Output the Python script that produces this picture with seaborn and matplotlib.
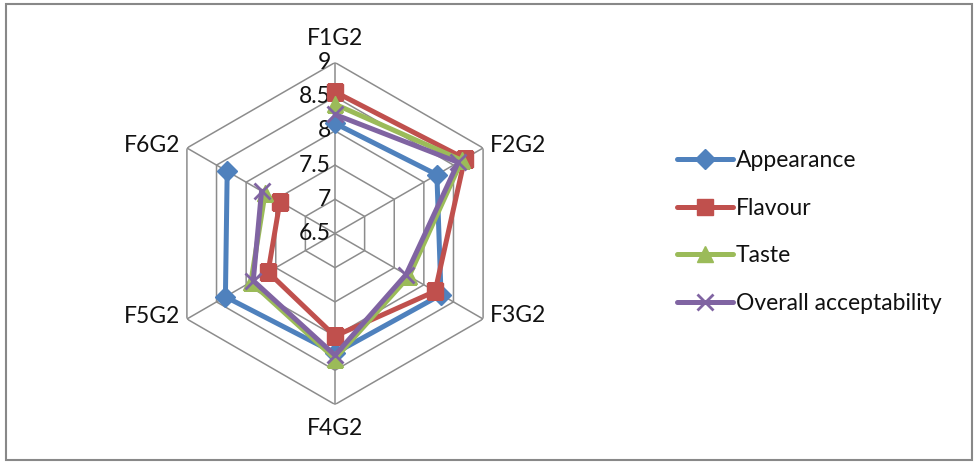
import numpy as np
import pandas as pd
import matplotlib
matplotlib.use("Agg")
import matplotlib.pyplot as plt
import seaborn as sns
from matplotlib.patches import Rectangle

categories = ["F1G2", "F2G2", "F3G2", "F4G2", "F5G2", "F6G2"]
appearance = [8.11, 8.22, 8.29, 8.25, 8.35, 8.32]
flavour = [8.57, 8.69, 8.19, 8.00, 7.63, 7.43]
taste = [8.39, 8.64, 7.75, 8.33, 7.92, 7.68]
overall = [8.24, 8.58, 7.70, 8.28, 7.88, 7.74]
series_names = ["Appearance", "Flavour", "Taste", "Overall acceptability"]
ring_values = [6.5, 7, 7.5, 8, 8.5, 9]
ring_labels = ["6.5", "7", "7.5", "8", "8.5", "9"]

sns.set_theme(style="white")
plt.rcParams["font.family"] = ["Lato", "DejaVu Sans"]

colors = ["#4F81BD", "#C0504D", "#9BBB59", "#8064A2"]
markers = ["D", "s", "^", "x"]
msizes = [10, 12, 11, 11]
FS = 16.5

fig = plt.figure(figsize=(9.74, 4.62), dpi=100)
W, H = 974, 462
cx, cy, R = 335, 233.5, 171
ax = fig.add_axes([(cx - R) / W, (H - cy - R) / H, 2 * R / W, 2 * R / H],
                  projection="polar")
ax.set_theta_zero_location("N")
ax.set_theta_direction(-1)
ax.set_ylim(6.5, 9)
ax.grid(False)
ax.spines["polar"].set_visible(False)
ax.set_xticks([])
ax.set_yticks([])
ax.patch.set_alpha(0)

n = len(categories)
theta = np.linspace(0, 2 * np.pi, n, endpoint=False)
theta_closed = np.append(theta, theta[0])

# hexagonal rings and spokes
grid_col = "#8C8C8C"
for rv in ring_values[1:]:
    ax.plot(theta_closed, [rv] * (n + 1), color=grid_col, lw=1.1, zorder=1)
for t in theta:
    ax.plot([t, t], [6.5, 9], color=grid_col, lw=1.1, zorder=1)

# radial value labels along the top spoke
for rv, lab in zip(ring_values, ring_labels):
    ax.annotate(lab, xy=(0, rv), xytext=(-4, 0), textcoords="offset pixels",
                ha="right", va="center", fontsize=FS, color="#111111")

# category labels
for t, cat in zip(theta, categories):
    s, c = np.sin(t), np.cos(t)
    if abs(s) < 0.1:
        ha, off = "center", (0, 24 * np.sign(c))
    elif s > 0:
        ha, off = "left", (7, 3)
    else:
        ha, off = "right", (-7, 3)
    ax.annotate(cat, xy=(t, 9), xytext=off, textcoords="offset pixels",
                ha=ha, va="center", fontsize=FS, color="#111111")

rows = []
for name, vals in zip(series_names, [appearance, flavour, taste, overall]):
    for i, (t, v) in enumerate(zip(theta_closed, vals + [vals[0]])):
        rows.append({"series": name, "theta": t, "value": v, "order": i})
df = pd.DataFrame(rows)

for name, c, m, ms in zip(series_names, colors, markers, msizes):
    sub = df[df["series"] == name]
    sns.lineplot(data=sub, x="theta", y="value", sort=False, ax=ax,
                 color=c, lw=3.6, marker=m, markersize=ms,
                 markeredgecolor=c, markeredgewidth=2 if m == "x" else 1,
                 label=name, zorder=3)

ax.set_xlabel("")
ax.set_ylabel("")
leg = ax.legend(loc="center left", bbox_to_anchor=(668 / W, 1 - 232 / H),
                bbox_transform=fig.transFigure, frameon=False,
                fontsize=FS, handlelength=2.45, handletextpad=0.1,
                labelspacing=1.15, borderaxespad=0)
for txt in leg.get_texts():
    txt.set_color("#111111")

fig.patches.append(Rectangle((6 / W, 2 / H), 966 / W, 456 / H,
                             transform=fig.transFigure, fill=False,
                             edgecolor="#888888", lw=1.5))

fig.savefig("out.png", dpi=100)
